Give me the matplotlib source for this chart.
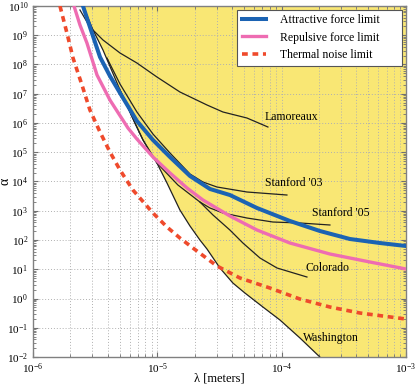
import numpy as np
import matplotlib
matplotlib.use("Agg")
import matplotlib.pyplot as plt
from matplotlib.ticker import LogLocator, NullFormatter

plt.rcParams["font.family"] = ["Liberation Serif", "DejaVu Serif"]
plt.rcParams["mathtext.fontset"] = "custom"
plt.rcParams["mathtext.rm"] = "Liberation Serif"
plt.rcParams["mathtext.it"] = "Liberation Serif:italic"

# log10(lambda [m]) and log10(alpha)
attr_lx = [-5.598, -5.542, -5.461, -5.381, -5.300, -5.164, -5.035, -4.898, -4.737,
           -4.576, -4.416, -4.198, -3.933, -3.692, -3.450, -3.209, -3.0]
attr_ly = [10.0, 9.282, 8.256, 7.607, 7.026, 6.068, 5.419, 4.838, 4.188,
           3.744, 3.538, 3.094, 2.650, 2.308, 2.034, 1.897, 1.795]

rep_lx = [-5.670, -5.622, -5.566, -5.485, -5.381, -5.236, -5.164, -5.035, -4.898,
          -4.761, -4.633, -4.416, -4.198, -3.933, -3.611, -3.289, -3.0]
rep_ly = [10.0, 9.350, 8.735, 7.641, 6.786, 5.829, 5.453, 4.838, 4.291,
          3.778, 3.368, 2.821, 2.342, 1.897, 1.521, 1.248, 1.009]

therm_lx = [-5.783, -5.727, -5.678, -5.606, -5.542, -5.461, -5.381, -5.300, -5.196, -5.035,
            -4.922, -4.818, -4.713, -4.520, -4.335, -4.094, -3.853, -3.611, -3.370, -3.0]
therm_ly = [10.0, 9.077, 8.222, 7.299, 6.444, 5.692, 5.009, 4.393, 3.709, 2.923,
            2.444, 2.068, 1.726, 1.111, 0.701, 0.359, -0.017, -0.291, -0.496, -0.701]

wash_lx = [-5.598, -5.517, -5.437, -5.300, -5.180, -5.115, -5.003, -4.922, -4.818, -4.737,
           -4.657, -4.600, -4.496, -4.392, -4.295, -4.150, -4.013, -3.852, -3.692]
wash_ly = [10.0, 9.179, 8.496, 7.128, 6.0, 5.419, 4.632, 3.949, 3.026, 2.479,
           2.0, 1.692, 1.043, 0.530, 0.188, -0.291, -0.735, -1.350, -2.0]

s05_lx = [-5.300, -5.180, -5.115, -5.003, -4.834, -4.657, -4.576, -4.472, -4.279,
          -4.070, -3.852, -3.611]
s05_ly = [7.128, 6.0, 5.419, 4.632, 3.880, 3.299, 3.094, 2.923, 2.752,
          2.615, 2.581, 2.513]

colo_lx = [-4.657, -4.552, -4.416, -4.311, -4.174, -4.037, -3.796]
colo_ly = [3.299, 2.855, 2.342, 1.897, 1.385, 1.043, 0.735]

s03_lx = [-5.405, -5.300, -5.164, -5.035, -4.898, -4.737, -4.633, -4.520, -4.279, -3.957]
s03_ly = [8.222, 7.333, 6.376, 5.624, 4.974, 4.256, 3.983, 3.812, 3.641, 3.538]

lam_lx = [-5.622, -5.542, -5.437, -5.300, -5.164, -5.003, -4.818, -4.600, -4.472, -4.279, -4.110]
lam_ly = [9.863, 9.282, 8.838, 8.393, 8.051, 7.573, 7.060, 6.615, 6.376, 6.171, 5.863]

experiments = ["Lamoreaux", "Stanford '03", "Stanford '05", "Colorado", "Washington"]
label_lx = [-4.134, -4.134, -3.755, -3.804, -3.828]
label_ly = [6.205, 3.949, 2.923, 1.043, -1.350]


def p(v):
    return 10.0 ** np.asarray(v)


fig = plt.figure(figsize=(4.15, 3.86), dpi=100)
ax = fig.add_axes([0.0795, 0.0751, 0.8985, 0.9094])

# excluded region: everything above the Washington bound
fx = np.concatenate([p(wash_lx), [1e-3, 1e-3]])
fy = np.concatenate([p(wash_ly), [1e-2, 1e10]])
ax.fill(fx, fy, color="#f9e774", lw=0, zorder=0.5)

for lx, ly in [(lam_lx, lam_ly), (s03_lx, s03_ly), (s05_lx, s05_ly),
               (colo_lx, colo_ly), (wash_lx, wash_ly)]:
    ax.plot(p(lx), p(ly), color="#222222", lw=0.9, zorder=2, solid_joinstyle="round")

ax.plot(p(therm_lx), p(therm_ly), color="#ef4a2c", lw=2.6,
        linestyle=(0, (1.6, 1.3)), label="Thermal noise limit", zorder=3)
ax.plot(p(rep_lx), p(rep_ly), color="#ee6cb2", lw=2.4, solid_joinstyle="round",
        label="Repulsive force limit", zorder=3)
ax.plot(p(attr_lx), p(attr_ly), color="#1b63b3", lw=2.9, solid_joinstyle="round",
        label="Attractive force limit", zorder=4)

for name, lx, ly in zip(experiments, label_lx, label_ly):
    ax.text(10 ** lx, 10 ** ly, name, fontsize=8.5, ha="left", va="center", zorder=5)

ax.set_xscale("log")
ax.set_yscale("log")
ax.set_xlim(1e-6, 1e-3)
ax.set_ylim(1e-2, 1e10)

ax.yaxis.set_major_locator(LogLocator(base=10, numticks=20))
ax.yaxis.set_minor_locator(LogLocator(base=10, subs=np.arange(2, 10), numticks=200))
ax.yaxis.set_minor_formatter(NullFormatter())
ax.xaxis.set_minor_locator(LogLocator(base=10, subs=np.arange(2, 10), numticks=50))
ax.xaxis.set_minor_formatter(NullFormatter())

ax.grid(True, which="major", color="#b0b0b0", linestyle=(0, (1, 2)), lw=0.7)
ax.grid(True, which="minor", axis="x", color="#b0b0b0", linestyle=(0, (1, 2)), lw=0.7)

ax.tick_params(which="both", direction="in", top=True, right=True, colors="#707070",
               labelcolor="black", labelsize=8)
ax.tick_params(which="major", length=3.5)
ax.tick_params(which="minor", length=2)
for s in ax.spines.values():
    s.set_color("#808080")
    s.set_linewidth(1.0)

ax.set_xlabel("λ [meters]", fontsize=9)
ax.set_ylabel("α", fontsize=10)
ax.xaxis.set_label_coords(0.5, -0.045)
ax.yaxis.set_label_coords(-0.057, 0.5)

# MATLAB-style legend box leaves room after the text
h, l = ax.get_legend_handles_labels()
l = [s + "      " for s in l[::-1]]
leg = ax.legend(h[::-1], l, loc="upper right", fontsize=8.5, handlelength=2.0,
                handletextpad=1.2, labelspacing=0.45, borderaxespad=0.3,
                fancybox=False, framealpha=1, edgecolor="#555555")
leg.get_frame().set_linewidth(0.8)

fig.savefig("out.png", dpi=100)
